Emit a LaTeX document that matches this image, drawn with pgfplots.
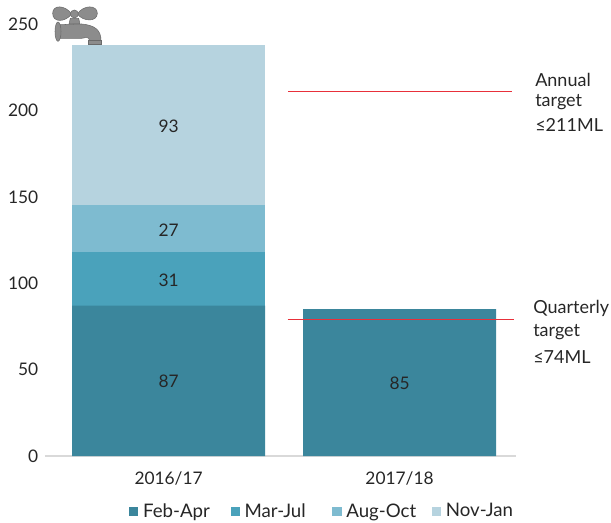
\documentclass[border=0pt]{standalone}
\usepackage{fontspec}
\setmainfont{Lato}
\usepackage{pgfplots}
\pgfplotsset{compat=1.18}
\definecolor{cA}{HTML}{3B869C}
\definecolor{cB}{HTML}{4AA2BB}
\definecolor{cC}{HTML}{7EBBD0}
\definecolor{cD}{HTML}{B6D3DF}
\definecolor{txt}{HTML}{262626}
\definecolor{targetred}{HTML}{E8303A}
\definecolor{tapf}{HTML}{8C8C8C}
\definecolor{tapd}{HTML}{6A6A6A}
\begin{document}
\begin{tikzpicture}[font=\fontsize{13.5pt}{16pt}\selectfont]
\useasboundingbox (0,0) rectangle (458.25pt,391.5pt);
\begin{axis}[
  at={(33.75pt,49.5pt)}, anchor=south west,
  scale only axis, width=353.25pt, height=324pt,
  xmin=-0.535, xmax=1.504, ymin=0, ymax=250,
  ybar stacked, bar width=0.835,
  axis x line=bottom, axis y line=left,
  axis line style={draw=black!15, line width=0.8pt, -},
  y axis line style={draw=none},
  xtick={0,1}, xticklabels={2016/17,2017/18},
  ytick={0,50,100,150,200,250},
  major tick length=0pt,
  tick label style={text=txt, font=\fontsize{13pt}{15pt}\selectfont},
  /pgf/number format/assume math mode=true,
  xticklabel style={yshift=-8.5pt},
  yticklabel style={xshift=-1.5pt},
  legend columns=4,
  legend style={draw=none, fill=none, at={(0.178,-0.103)}, anchor=north west,
    /tikz/every even column/.append style={column sep=13.5pt},
    inner sep=0pt, row sep=0pt, text=txt, font=\fontsize{14pt}{16pt}\selectfont},
  legend image code/.code={\fill[#1] (0pt,-3.4pt) rectangle (7pt,3.6pt); \path (0pt,0pt) (8.5pt,0pt);},
  clip=false,
]
\addplot[fill=cA, draw=none] coordinates {(0,87) (1,85)};
\addplot[fill=cB, draw=none] coordinates {(0,31) (1,0)};
\addplot[fill=cC, draw=none] coordinates {(0,27) (1,0)};
\addplot[fill=cD, draw=none] coordinates {(0,93) (1,0)};
\legend{Feb-Apr,Mar-Jul\hspace*{4.5pt},Aug-Oct\hspace*{-3.75pt},Nov-Jan}
\end{axis}
\begin{axis}[
  at={(33.75pt,49.5pt)}, anchor=south west,
  scale only axis, width=353.25pt, height=324pt,
  xmin=-0.535, xmax=1.504, ymin=0, ymax=250,
  hide axis,
]
\addplot[draw=targetred, no markers, line width=0.9pt] coordinates {(0.519,211) (1.485,211)};
\addplot[draw=targetred, no markers, line width=0.9pt] coordinates {(0.515,79) (1.494,79)};
\addplot[only marks, mark=none,
  nodes near coords, point meta=explicit symbolic,
  nodes near coords style={anchor=center, text=txt, font=\fontsize{13pt}{15pt}\selectfont}]
  coordinates {(0,43)[87] (0,101.6)[31] (0,130.6)[27] (0,191)[93] (1,42.3)[85]};
\end{axis}
\begin{scope}[shift={(0pt,391.5pt)}, x=0.25pt, y=-0.25pt, text=txt]
\node[anchor=west, inner sep=0pt] at (1605,240) {Annual};
\node[anchor=west, inner sep=0pt] at (1605,306) {target};
\node[anchor=west, inner sep=0pt] at (1605,375) {≤211ML};
\node[anchor=west, inner sep=0pt] at (1599,924) {Quarterly};
\node[anchor=west, inner sep=0pt] at (1599,996) {target};
\node[anchor=west, inner sep=0pt] at (1599,1071) {≤74ML};
% tap icon
\begin{scope}[fill=tapf, draw=tapd, line width=0.4pt]
\filldraw (215,42) .. controls (195,14) and (158,14) .. (158,40) .. controls (158,68) and (195,68) .. (215,42) -- cycle;
\filldraw (232,42) .. controls (250,14) and (292,14) .. (292,40) .. controls (292,66) and (250,66) .. (232,42) -- cycle;
\filldraw (211,55) -- (236,55) -- (240,72) -- (207,72) -- cycle;
\filldraw (223,42) circle[radius=12];
\filldraw (180,74) -- (245,72) .. controls (285,76) and (303,90) .. (303,122) -- (268,122) .. controls (268,110) and (260,112) .. (245,115) -- (180,115) -- cycle;
\filldraw (174,95) ellipse[x radius=9, y radius=29];
\filldraw (265,122) rectangle (305,133);
\end{scope}
\end{scope}
\end{tikzpicture}
\end{document}
